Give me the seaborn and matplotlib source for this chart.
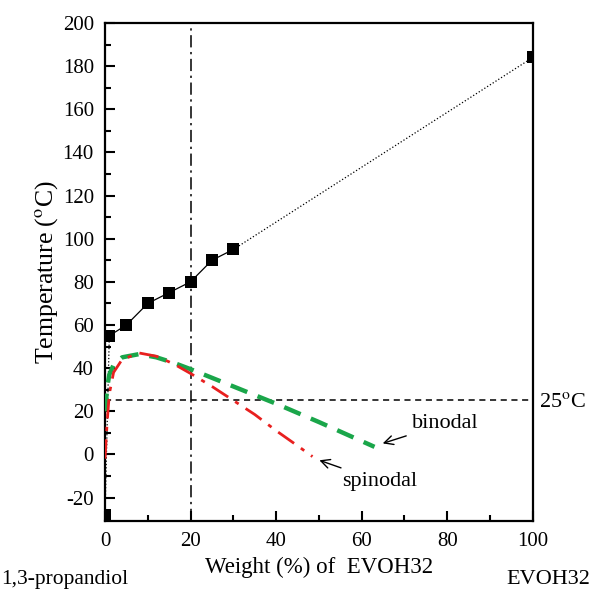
import matplotlib
matplotlib.use("Agg")
import matplotlib.pyplot as plt
import numpy as np
import pandas as pd
import seaborn as sns

# cloud point data (squares)
cloud_x = [1, 5, 10, 15, 20, 25, 30]
cloud_t = [55, 60, 70, 75, 80, 90, 95]
pure_x = [0, 100]
pure_t = [-28, 184]

# binodal curve
bin_x = [0, 0.5, 1, 2, 4, 8, 12, 16, 20, 30, 40, 50, 63]
bin_t = [20, 31, 37, 41.5, 45, 46.5, 45, 42.5, 39.5, 31.5, 23.5, 15, 3.5]

# spinodal curve
spi_x = [0, 0.5, 1, 2, 4, 8, 12, 16, 20, 25, 30, 35, 40, 45, 48.5]
spi_t = [-2, 15, 28, 38, 44, 47, 45.5, 42, 37.5, 31.5, 25, 18.5, 11, 4, -1]

ref_temp = 25
ref_wt = 20

sns.set_style("ticks")
plt.rcParams['font.family'] = ['Liberation Serif', 'DejaVu Serif']
plt.rcParams['mathtext.fontset'] = 'stix'
plt.rcParams['axes.unicode_minus'] = False
plt.rcParams['text.color'] = 'black'
plt.rcParams['axes.labelcolor'] = 'black'
plt.rcParams['xtick.color'] = 'black'
plt.rcParams['ytick.color'] = 'black'
plt.rcParams['axes.edgecolor'] = 'black'

fig = plt.figure(figsize=(5.9, 5.89), dpi=100)
ax = fig.add_axes([0.178, 0.115, 0.725, 0.846])

# reference lines
ax.axhline(ref_temp, color='black', linestyle=(0, (4, 3)), linewidth=1.1, zorder=1)
ax.axvline(ref_wt, color='black', linestyle=(0, (8, 3, 1.5, 3)), linewidth=1.1, zorder=1)

# cloud point line: solid then dotted to the pure components
sns.lineplot(x=cloud_x, y=cloud_t, ax=ax, color='black', linewidth=0.9, sort=False)
sns.lineplot(x=[cloud_x[-1], pure_x[1]], y=[cloud_t[-1], pure_t[1]], ax=ax,
             color='black', linewidth=0.9, linestyle=':', sort=False)
sns.lineplot(x=[pure_x[0], cloud_x[0]], y=[pure_t[0], cloud_t[0]], ax=ax,
             color='black', linewidth=0.9, linestyle=':', sort=False)

pts = pd.DataFrame({'x': cloud_x + pure_x, 't': cloud_t + pure_t})
sns.scatterplot(data=pts, x='x', y='t', ax=ax, marker='s', s=80, color='black',
                edgecolor='black', linewidth=0, zorder=5)

sns.lineplot(x=bin_x, y=bin_t, ax=ax, color='#1aa64a', linewidth=3.2,
             linestyle=(0, (4, 2.5)), sort=False, zorder=3)
sns.lineplot(x=spi_x, y=spi_t, ax=ax, color='#e8201f', linewidth=2.0,
             linestyle=(0, (7, 3, 1.5, 3)), sort=False, zorder=4)

ax.set_xlim(0, 100)
ax.set_ylim(-31, 200)
ax.set_xticks(np.arange(0, 101, 20))
ax.set_xticks(np.arange(10, 100, 20), minor=True)
ax.set_yticks(np.arange(-20, 201, 20))
ax.set_yticks(np.arange(-30, 200, 20), minor=True)
ax.tick_params(direction='in', which='major', length=7, width=1.5, labelsize=15, pad=8)
ax.tick_params(direction='in', which='minor', length=4, width=1.5)
for side in ax.spines.values():
    side.set_linewidth(1.6)

ax.set_ylabel(r'Temperature ($^{\rm o}$C)', fontsize=18.5, labelpad=2)
ax.set_xlabel('Weight (%) of  EVOH32', fontsize=16.5, labelpad=4)

fig.text(0.11, 0.0, '1,3-propandiol', fontsize=15.5, ha='center', va='bottom')
fig.text(0.93, 0.0, 'EVOH32', fontsize=16, ha='center', va='bottom')
fig.text(0.913, 0.317, r'25$^{\rm o}$C', fontsize=16, ha='left', va='center')

ax.annotate('binodal', xy=(64.3, 4.7), xytext=(71.8, 14.4), fontsize=16,
            ha='left', va='center',
            arrowprops=dict(arrowstyle='->', color='black', lw=1.0))
ax.annotate('spinodal', xy=(49.5, -2.3), xytext=(55.5, -12.6), fontsize=16,
            ha='left', va='center',
            arrowprops=dict(arrowstyle='->', color='black', lw=1.0))

fig.savefig('out.png', dpi=100)
